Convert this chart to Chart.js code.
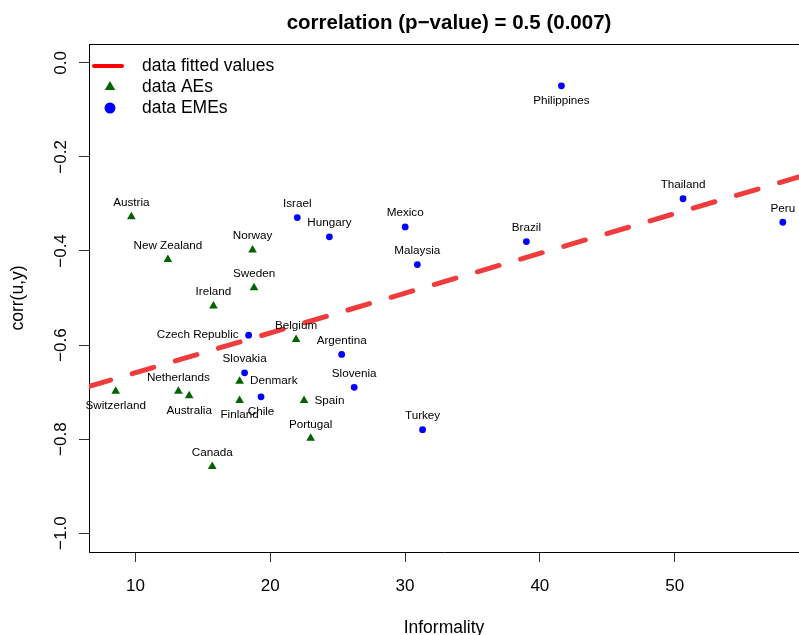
<!DOCTYPE html>
<html>
<head>
<meta charset="utf-8">
<script src="https://cdn.jsdelivr.net/npm/chart.js@4.4.0/dist/chart.umd.min.js"></script>
<style>
  html, body { margin: 0; padding: 0; background: #fff; }
  #wrap { width: 799px; height: 635px; }
</style>
</head>
<body>
<div id="wrap"><canvas id="corr"></canvas></div>
<script>
// Achsen-Ticks
var xTicks = [10, 20, 30, 40, 50];
var yTicks = [-1.0, -0.8, -0.6, -0.4, -0.2, 0.0];

// AEs (advanced economies)
var aeNames = ["Austria", "New Zealand", "Norway", "Sweden", "Ireland", "Belgium", "Switzerland",
  "Netherlands", "Australia", "Denmark", "Finland", "Spain", "Portugal", "Canada"];
var aeX = [9.70, 12.41, 18.69, 18.80, 15.79, 21.92, 8.54, 13.19, 13.99, 17.73, 17.73, 22.51, 23.00, 15.70];
var aeY = [-0.327, -0.418, -0.398, -0.478, -0.517, -0.588, -0.698, -0.698, -0.708, -0.677, -0.718, -0.718, -0.798, -0.858];

// EMEs (emerging market economies)
var emeNames = ["Israel", "Hungary", "Mexico", "Malaysia", "Brazil", "Philippines", "Thailand", "Peru",
  "Czech Republic", "Slovakia", "Chile", "Argentina", "Slovenia", "Turkey"];
var emeX = [22.01, 24.39, 30.01, 30.91, 39.00, 41.60, 50.62, 58.02, 18.40, 18.10, 19.32, 25.30, 26.23, 31.30];
var emeY = [-0.329, -0.370, -0.349, -0.429, -0.380, -0.049, -0.289, -0.339, -0.579, -0.659, -0.710, -0.620, -0.690, -0.780];

// fitted values (Endpunkte der Regressionsgeraden)
var fitX = [6.56, 60.0];
var fitY = [-0.688, -0.236];

var FONT = "'Liberation Sans', Arial, Helvetica, sans-serif";

// wo die Beschriftung relativ zum Punkt steht (Standard: oben)
var labelSide = {
  "Czech Republic": "left", "Denmark": "right", "Spain": "right",
  "Switzerland": "below", "Australia": "below", "Finland": "below",
  "Chile": "below", "Philippines": "below"
};

function toPoints(xs, ys) {
  var pts = [];
  for (var i in xs) {
    pts.push({ x: xs[i], y: ys[i] });
  }
  return pts;
}

function fmtTick(v) {
  return v.toFixed(1).replace("-", "\u2212");
}

// Titel, Rahmen oben, Beschriftungen und Legende
var extras = {
  id: "extras",
  afterDatasetsDraw: function (chart) {
    var ctx = chart.ctx;
    ctx.save();
    ctx.fillStyle = "#000";
    ctx.font = "11.7px " + FONT;
    chart.data.datasets.forEach(function (ds, di) {
      if (!ds.names) return;
      var meta = chart.getDatasetMeta(di);
      meta.data.forEach(function (el, j) {
        var name = ds.names[j];
        var side = labelSide[name] || "above";
        var tx = el.x, ty = el.y;
        ctx.textBaseline = "middle";
        if (side === "above") { ctx.textAlign = "center"; ty -= 13.8; }
        else if (side === "below") { ctx.textAlign = "center"; ty += 14.5; }
        else if (side === "left") { ctx.textAlign = "right"; tx -= 10; }
        else { ctx.textAlign = "left"; tx += 10.5; }
        ctx.fillText(name, tx, ty);
      });
    });
    ctx.restore();
  },
  afterDraw: function (chart) {
    var ctx = chart.ctx;
    var a = chart.chartArea;
    ctx.save();
    // Rahmen oben
    ctx.strokeStyle = "#000";
    ctx.lineWidth = 1;
    ctx.beginPath();
    ctx.moveTo(a.left, Math.round(a.top) + 0.5);
    ctx.lineTo(a.right, Math.round(a.top) + 0.5);
    ctx.stroke();

    // Titel
    ctx.fillStyle = "#000";
    ctx.font = "bold 20.5px " + FONT;
    ctx.textAlign = "center";
    ctx.textBaseline = "middle";
    ctx.fillText("correlation (p\u2212value) = 0.5 (0.007)", 449, 23);

    // Legende
    var lx = a.left + 21, tx = a.left + 53;
    var ly = [a.top + 22, a.top + 43, a.top + 64];
    ctx.strokeStyle = "#ff0000";
    ctx.lineWidth = 4;
    ctx.lineCap = "round";
    ctx.beginPath();
    ctx.moveTo(a.left + 5, ly[0]);
    ctx.lineTo(a.left + 33, ly[0]);
    ctx.stroke();

    ctx.fillStyle = "#006400";
    var r = 6;
    ctx.beginPath();
    ctx.moveTo(lx, ly[1] - r);
    ctx.lineTo(lx + r * Math.sin(2 * Math.PI / 3), ly[1] + r / 2);
    ctx.lineTo(lx - r * Math.sin(2 * Math.PI / 3), ly[1] + r / 2);
    ctx.closePath();
    ctx.fill();

    ctx.fillStyle = "#0000ff";
    ctx.beginPath();
    ctx.arc(lx, ly[2], 5.5, 0, 2 * Math.PI);
    ctx.fill();

    ctx.fillStyle = "#000";
    ctx.font = "17.5px " + FONT;
    ctx.textAlign = "left";
    ctx.fillText("data fitted values", tx, ly[0]);
    ctx.fillText("data AEs", tx, ly[1]);
    ctx.fillText("data EMEs", tx, ly[2]);
    ctx.restore();
  }
};

var ctx = document.getElementById("corr");
var myChart = new Chart(ctx, {
  type: "scatter",
  data: {
    datasets: [
      {
        label: "data AEs",
        names: aeNames,
        data: toPoints(aeX, aeY),
        pointStyle: "triangle",
        pointRadius: 5,
        pointBorderWidth: 0,
        backgroundColor: "#006400",
        borderColor: "#006400"
      },
      {
        label: "data EMEs",
        names: emeNames,
        data: toPoints(emeX, emeY),
        pointStyle: "circle",
        pointRadius: 3.4,
        pointBorderWidth: 0,
        backgroundColor: "#0000ff",
        borderColor: "#0000ff"
      },
      {
        label: "data fitted values",
        type: "line",
        data: toPoints(fitX, fitY),
        showLine: true,
        pointRadius: 0,
        borderColor: "rgba(240, 60, 60, 1)",
        borderWidth: 5,
        borderDash: [22.5, 22.5],
        borderCapStyle: "round",
        fill: false
      }
    ]
  },
  options: {
    responsive: true,
    maintainAspectRatio: false,
    animation: false,
    devicePixelRatio: 1,
    layout: { autoPadding: false, padding: { top: 44, left: 0, right: 0, bottom: 0 } },
    plugins: {
      legend: { display: false },
      title: { display: false },
      tooltip: { enabled: false }
    },
    scales: {
      x: {
        type: "linear",
        min: 6.56,
        max: 59.22,
        afterBuildTicks: function (s) { s.ticks = xTicks.map(function (v) { return { value: v }; }); },
        afterFit: function (s) { s.height = 83; s.paddingLeft = 0; s.paddingRight = 0; },
        grid: { drawOnChartArea: false, drawTicks: true, tickLength: 10, color: "#333" },
        border: { display: true, color: "#000", width: 1 },
        ticks: { color: "#000", padding: 14, maxRotation: 0, font: { family: FONT, size: 17 } },
        title: { display: true, text: "Informality", color: "#000", padding: 0, font: { family: FONT, size: 17.5, lineHeight: 0.8 } }
      },
      y: {
        type: "linear",
        min: -1.04,
        max: 0.04,
        afterBuildTicks: function (s) { s.ticks = yTicks.map(function (v) { return { value: v }; }); },
        afterFit: function (s) { s.width = 89; s.paddingTop = 0; s.paddingBottom = 0; },
        grid: { drawOnChartArea: false, drawTicks: true, tickLength: 10, color: "#333" },
        border: { display: true, color: "#000", width: 1 },
        ticks: {
          color: "#000", padding: 1, minRotation: 90, maxRotation: 90, crossAlign: "center",
          font: { family: FONT, size: 17 },
          callback: function (v) { return fmtTick(v); }
        },
        title: { display: true, text: "corr(u,y)", color: "#000", padding: { top: 8, bottom: 0 }, font: { family: FONT, size: 17.5, lineHeight: 1.2 } }
      }
    }
  },
  plugins: [extras]
});
</script>
</body>
</html>
